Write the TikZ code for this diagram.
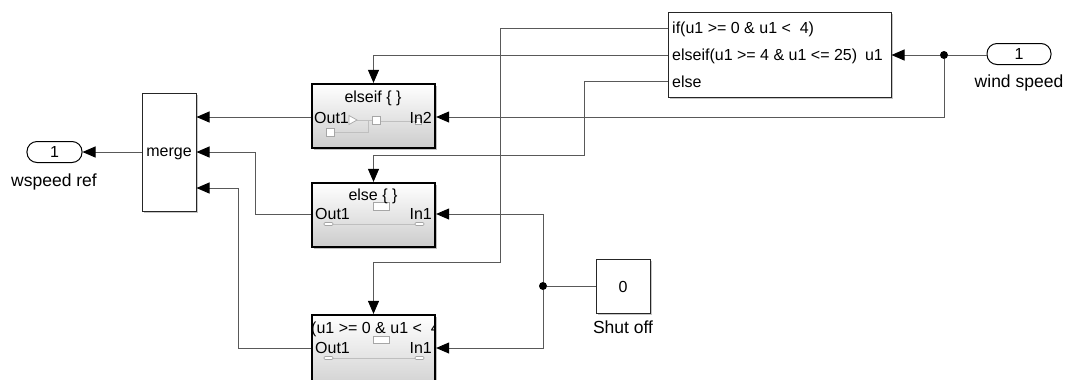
\documentclass[tikz,border=0pt]{standalone}
\usepackage{fontspec}
\setmainfont{Liberation Sans}
\usetikzlibrary{arrows.meta,shadows,calc}
\newcommand\blkfont{\fontsize{16bp}{18bp}\selectfont}
\newcommand\lblfont{\fontsize{17.5bp}{20bp}\selectfont}
\begin{document}
\begin{tikzpicture}[x=1bp,y=-1bp,
  wire/.style={draw=black!65,line width=0.9bp},
  arr/.style={wire,-{Triangle[length=13bp,width=11bp,color=black]}},
  blk/.style={draw=black!85,line width=1bp,fill=white,rectangle,inner sep=0pt,
    drop shadow={shadow xshift=1.5bp,shadow yshift=-1.5bp,opacity=.45,fill=black!50}},
  subsys/.style={draw=black,line width=2.2bp,rectangle,inner sep=0pt,
    top color=white,bottom color=black!20,minimum width=123bp,minimum height=64bp,
    drop shadow={shadow xshift=1.8bp,shadow yshift=-1.8bp,opacity=.5,fill=black!50}},
  portbox/.style={draw=black,line width=1bp,fill=white,rounded corners=10bp,rectangle,inner sep=0pt},
  junction/.style={circle,fill=black,inner sep=0pt,minimum size=8bp},
  btxt/.style={font=\blkfont,inner sep=0pt},
  ltxt/.style={font=\lblfont,inner sep=0pt},
  icon/.style={draw=black!35,line width=0.7bp,fill=white},
  iconline/.style={draw=black!25,line width=0.7bp}]
\useasboundingbox (0,0) rectangle (1066,379);
\clip (0,0) rectangle (1066,379);

% ---------- blocks ----------
\node[blk,minimum width=54bp,minimum height=118bp] (merge) at (169,152) {};
\node[btxt,anchor=base] (mergetxt) at (169,156) {merge};

\node[portbox,minimum width=55bp,minimum height=21bp] (wsref) at (54.5,152) {};
\node[btxt,anchor=base] (wsrefnum) at (54.5,157.5) {1};
\node[ltxt,anchor=base] (wsreflbl) at (54,186) {wspeed ref};

\node[subsys] (ei) at (373.5,116) {};
\node[subsys] (el) at (373.5,215) {};
\node[subsys,minimum height=80bp] (ifs) at (373.5,355) {};

\node[blk,minimum width=223bp,minimum height=85bp] (ifb) at (779.5,54.5) {};
\node[btxt,anchor=base west] (ifl1) at (672,33.5) {if(u1 >= 0 \& u1 <\ \ 4)};
\node[btxt,anchor=base west] (ifl2) at (672,60.5) {elseif(u1 >= 4 \& u1 <= 25)};
\node[btxt,anchor=base east] (ifu1) at (883,60.5) {u1};
\node[btxt,anchor=base west] (ifl3) at (672,87) {else};

\node[blk,minimum width=54bp,minimum height=54bp] (cst) at (623,286) {};
\node[btxt,anchor=base] (cstnum) at (623,292) {0};
\node[ltxt,anchor=base] (cstlbl) at (623,333) {Shut off};

\node[portbox,minimum width=64bp,minimum height=21bp] (ws) at (1019,54) {};
\node[btxt,anchor=base] (wsnum) at (1019,59.5) {1};
\node[ltxt,anchor=base] (wslbl) at (1019,87.5) {wind speed};

\node[junction] (d1) at (944,55) {};
\node[junction] (d2) at (543,286) {};

% ---------- subsystem contents ----------
% elseif
\draw[iconline] (357,120) -- (372,120);
\draw[iconline] (380,121) -- (415,121);
\draw[iconline] (334,132.5) -- (368,132.5) -- (368,120);
\draw[icon] (349,115.5) -- (357,120) -- (349,124.5) -- cycle;
\draw[icon] (372,116.5) rectangle (380,124.5);
\draw[icon] (326,128.5) rectangle (334,136.5);
\draw[icon] (415,118) rectangle (421,124);
\node[btxt,anchor=base] (eititle) at (373,102) {elseif \{ \}};
\node[btxt,anchor=base west] (eiout) at (314,123) {Out1};
\node[btxt,anchor=base east] (eiin) at (432,123) {In2};
% else
\draw[iconline] (324,224) -- (424,224);
\draw[icon,rounded corners=1.2bp] (324,222.5) rectangle (333,225.5);
\draw[icon,rounded corners=1.2bp] (415,222.5) rectangle (424,225.5);
\draw[icon] (373,202) rectangle (389,210);
\node[btxt,anchor=base] (eltitle) at (373,200) {else \{ \}};
\node[btxt,anchor=base west] (elout) at (315,219) {Out1};
\node[btxt,anchor=base east] (elin) at (432,219) {In1};
% if (bottom)
\draw[iconline] (324,358) -- (424,358);
\draw[icon,rounded corners=1.2bp] (324,356.5) rectangle (333,359.5);
\draw[icon,rounded corners=1.2bp] (415,356.5) rectangle (424,359.5);
\draw[icon] (373,336) rectangle (389,343);
\begin{scope}
\clip (312.5,316) rectangle (434.5,379);
\node[btxt,anchor=base west] (ifstitle) at (311,333.5) {(u1 >= 0 \& u1 <\ \ 4};
\end{scope}
\node[btxt,anchor=base west] (ifsout) at (315,353) {Out1};
\node[btxt,anchor=base east] (ifsin) at (432,353) {In1};

% ---------- ports ----------
\coordinate (ifbp1) at (ifb.west |- 0,28);
\coordinate (ifbp2) at (ifb.west |- 0,55);
\coordinate (ifbp3) at (ifb.west |- 0,81);
\coordinate (ifbu1) at (ifb.east |- 0,55);
\coordinate (eiin) at (ei.east |- 0,117);
\coordinate (eiout) at (ei.west |- 0,117);
\coordinate (elin) at (el.east |- 0,214);
\coordinate (elout) at (el.west |- 0,214);
\coordinate (ifsin) at (ifs.east |- 0,348);
\coordinate (ifsout) at (ifs.west |- 0,348);
\coordinate (m1) at (merge.east |- 0,117);
\coordinate (m2) at (merge.east |- 0,152);
\coordinate (m3) at (merge.east |- 0,188);

% ---------- connectors ----------
\draw[wire] (d1) -- (d1 -| ws.west);
\draw[arr] (d1) -- (ifbu1);
\draw[arr] (d1) |- (eiin);
\draw[arr] (ifbp1) -| (500,262) -| (ifs.north);
\draw[arr] (ifbp2) -| (ei.north);
\draw[arr] (ifbp3) -| (584,155) -| (el.north);
\draw[wire] (cst.west) -- (d2);
\draw[arr] (d2) |- (elin);
\draw[arr] (d2) |- (ifsin);
\draw[arr] (eiout) -- (m1);
\draw[arr] (elout) -| (255,152) -- (m2);
\draw[arr] (ifsout) -| (238,188) -- (m3);
\draw[arr] (merge.west) -- (wsref.east);
\end{tikzpicture}
\end{document}
